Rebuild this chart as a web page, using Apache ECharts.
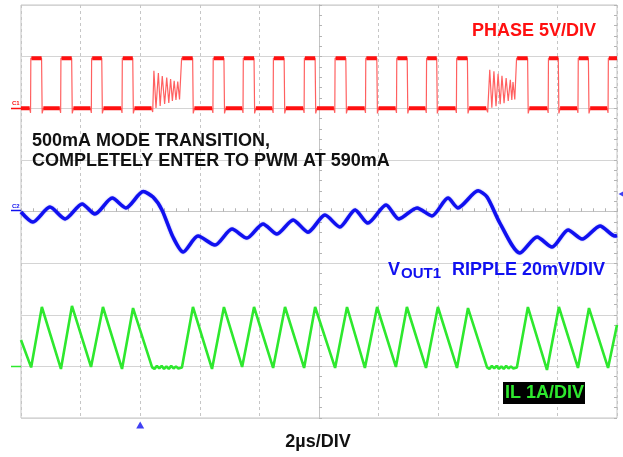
<!DOCTYPE html>
<html>
<head>
<meta charset="utf-8">
<script src="https://cdn.jsdelivr.net/npm/echarts@6/dist/echarts.min.js"></script>
<style>
html, body { margin: 0; padding: 0; background: #fff; }
#chart { width: 623px; height: 457px; }
</style>
</head>
<body>
<div id="chart"></div>
<script>
// time in µs (2µs/DIV, screen centred on 0)

// CH1 phase node, volts
const phaseHigh = 4.85;
const phaseLow = 0;
const phaseDip = -0.45;
const phaseUnder = -0.5;
const phaseRise = [-9.67, -8.66, -7.63, -6.60, -4.61, -3.55, -2.54, -1.53, -0.49, 0.54, 1.57, 2.61, 3.61, 4.62, 6.63, 7.70, 8.70, 9.71];
const phaseFall = [-9.31, -8.30, -7.29, -6.25, -4.24, -3.19, -2.18, -1.17, -0.13, 0.90, 1.94, 2.96, 3.95, 4.98, 7.00, 8.03, 9.04, null];
const burst1T = [-5.62, -5.58, -5.54, -5.47, -5.39, -5.33, -5.26, -5.18, -5.11, -5.04, -4.98, -4.92, -4.86, -4.80, -4.74, -4.68];
const burst1V = [0, -0.36, 3.64, 0.03, 3.42, 0.22, 3.13, 0.42, 2.97, 0.51, 2.84, 0.71, 2.67, 0.80, 2.58, 0.85];
const burst2T = [5.61, 5.66, 5.73, 5.80, 5.87, 5.94, 6.01, 6.08, 6.14, 6.21, 6.28, 6.35, 6.42, 6.47, 6.51, 6.57];
const burst2V = [0, -0.40, 3.73, 0.05, 3.57, 0.20, 3.34, 0.40, 3.15, 0.50, 2.93, 0.70, 2.76, 0.80, 2.54, 0.85];

// CH2 output ripple, mV
const vout = [
    [-10.00, -0.2], [-9.60, -4.1], [-9.03, 1.7], [-8.52, -2.9], [-7.95, 2.9], [-7.52, -1.0],
    [-6.94, 5.2], [-6.48, 1.4], [-5.90, 7.7], [-5.57, 5.6], [-5.27, 0.6], [-4.90, -9.9],
    [-4.56, -15.7], [-4.06, -9.5], [-3.49, -13.0], [-2.92, -6.8], [-2.42, -10.3], [-1.88, -4.8],
    [-1.41, -8.7], [-0.87, -3.3], [-0.37, -8.0], [0.20, -1.4], [0.70, -6.0], [1.21, 0.6],
    [1.64, -4.5], [2.25, 2.5], [2.68, -2.9], [3.29, 1.4], [3.79, -1.7], [4.33, 5.2],
    [4.66, 1.4], [5.34, 8.0], [5.64, 5.6], [6.07, -4.5], [6.74, -16.1], [7.32, -9.9],
    [7.82, -13.8], [8.36, -7.2], [8.83, -10.7], [9.43, -5.6], [9.93, -9.5], [10.00, -9.3]
];

// CH3 inductor current, A
const il = [
    [-10.00, 0.53], [-9.66, 0], [-9.30, 1.17], [-8.66, -0.03], [-8.29, 1.19], [-7.65, 0.01],
    [-7.25, 1.17], [-6.61, -0.03], [-6.24, 1.15], [-5.60, 0],
    [-5.52, -0.03], [-5.44, 0.03], [-5.36, -0.02], [-5.28, 0.03], [-5.20, -0.03], [-5.12, 0.02],
    [-5.04, -0.03], [-4.96, 0.03], [-4.88, -0.02], [-4.80, 0.02], [-4.72, -0.02],
    [-4.60, 0], [-4.23, 1.17], [-3.59, -0.03], [-3.19, 1.17], [-2.58, 0.01], [-2.18, 1.17],
    [-1.54, -0.01], [-1.14, 1.17], [-0.50, -0.01], [-0.13, 1.17], [0.54, -0.01], [0.94, 1.17],
    [1.54, -0.01], [1.95, 1.17], [2.58, 0.01], [2.95, 1.17], [3.59, -0.01], [3.99, 1.17],
    [4.63, -0.01], [5.00, 1.15], [5.64, 0],
    [5.72, -0.03], [5.80, 0.03], [5.88, -0.02], [5.96, 0.03], [6.04, -0.03], [6.12, 0.02],
    [6.20, -0.03], [6.28, 0.03], [6.36, -0.02], [6.44, 0.02], [6.52, -0.02],
    [6.64, 0], [7.01, 1.17], [7.65, -0.05], [8.05, 1.17], [8.69, -0.01], [9.06, 1.15],
    [9.70, -0.01], [10.00, 0.82]
];

const triggerTime = -6;
const triggerLevel = 6.8; // mV on CH2

const ch1 = { offset: 2.0, perDiv: 5 };
const ch2 = { offset: 0, perDiv: 20 };
const ch3 = { offset: -3.02, perDiv: 1 };
const toDiv = (ch, p) => [p[0], p[1] === '-' ? '-' : ch.offset + p[1] / ch.perDiv];

const RED = '#ff1010', BLUE = '#1010f0', GREEN = '#2ee82e';
const FONT = '"Liberation Sans", Arial, sans-serif';

// build phase waveform from the edge lists
const bursts = [
    burst1T.map((t, k) => [t, burst1V[k]]),
    burst2T.map((t, k) => [t, burst2V[k]])
];
const edgePts = [[-10, phaseLow]];
const flatPts = [];
let lowStart = -10;
phaseRise.forEach((r, i) => {
    const b = bursts.find(b => b[0][0] > lowStart && b[0][0] < r);
    const lowEnd = b ? b[0][0] : r - 0.04;
    flatPts.push([lowStart, phaseLow], [lowEnd, phaseLow], [lowEnd, '-']);
    if (b) b.forEach(p => edgePts.push(p));
    else edgePts.push([r - 0.04, phaseLow], [r - 0.01, phaseDip]);
    const f = phaseFall[i] == null ? 10 : phaseFall[i];
    edgePts.push([r, phaseHigh], [f, phaseHigh]);
    flatPts.push([r + 0.02, phaseHigh], [f, phaseHigh], [f, '-']);
    if (phaseFall[i] != null) {
        edgePts.push([f + 0.02, phaseUnder], [f + 0.06, phaseLow]);
        lowStart = f + 0.06;
    }
});

const tickStyle = { color: '#b4b4b4' };
const centreAxis = (inside, split) => ({
    type: 'value', min: -10, max: 10, interval: 2,
    axisLabel: { show: false },
    axisLine: { onZero: true, lineStyle: { color: '#c4c4c4' } },
    axisTick: { show: true, inside: inside, length: 3, lineStyle: tickStyle },
    minorTick: { show: true, splitNumber: 5, length: 3, lineStyle: tickStyle },
    splitLine: { show: split, lineStyle: { color: '#c6c6c6', type: [3, 3] } }
});
const centreYAxis = (inside, split) => ({
    type: 'value', min: -4, max: 4, interval: 1,
    axisLabel: { show: false },
    axisLine: { onZero: true, lineStyle: { color: '#c4c4c4' } },
    axisTick: { show: true, inside: inside, length: 3, lineStyle: tickStyle },
    minorTick: { show: true, splitNumber: 5, length: 3, lineStyle: tickStyle },
    splitLine: { show: split, lineStyle: { color: '#d4d4d4', type: 'solid' } }
});

const chart = echarts.init(document.getElementById('chart'));
const txt = (text, x, y, fill, size, extra) => ({
    type: 'text', x: x, y: y, z: 100,
    style: Object.assign({ text: text, fill: fill, font: 'bold ' + size + 'px ' + FONT, verticalAlign: 'middle' }, extra || {})
});

chart.setOption({
    animation: false,
    backgroundColor: '#fff',
    grid: { left: 21, right: 6, top: 5, bottom: 39, show: true, borderColor: '#c4c4c4', borderWidth: 1 },
    xAxis: [centreAxis(true, true), centreAxis(false, false)],
    yAxis: [centreYAxis(true, true), centreYAxis(false, false),
        Object.assign(centreYAxis(true, false), { position: 'right', axisLine: { show: false, onZero: false } })],
    series: [
        {
            type: 'line', data: edgePts.map(p => toDiv(ch1, p)), showSymbol: false,
            lineStyle: { color: '#ff6060', width: 1.2 }, z: 3
        },
        {
            type: 'line', data: flatPts.map(p => toDiv(ch1, p)), showSymbol: false, connectNulls: false,
            lineStyle: { color: RED, width: 4 }, z: 4
        },
        {
            type: 'line', data: vout.map(p => toDiv(ch2, p)), showSymbol: false, smooth: 0.25,
            lineStyle: { color: BLUE, width: 3.5, shadowColor: 'rgba(16,16,240,0.5)', shadowBlur: 1.5 }, z: 5
        },
        {
            type: 'line', data: il.map(p => toDiv(ch3, p)), showSymbol: false,
            lineStyle: { color: GREEN, width: 2.6 }, z: 5
        },
        {
            type: 'scatter', clip: false, silent: true,
            data: [[triggerTime, -4]], symbol: 'triangle', symbolSize: [8, 7], symbolOffset: [0, 7],
            itemStyle: { color: BLUE }
        },
        {
            type: 'scatter', clip: false, silent: true,
            data: [toDiv(ch2, [10, triggerLevel])], symbol: 'triangle', symbolRotate: 90,
            symbolSize: [8, 7], symbolOffset: [5, 0], itemStyle: { color: BLUE }
        }
    ],
    graphic: [
        txt('PHASE 5V/DIV', 472, 31, RED, 18),
        txt('500mA MODE TRANSITION,', 32, 141, '#111', 18),
        txt('COMPLETELY ENTER TO PWM AT 590mA', 32, 161, '#111', 18),
        txt('V', 388, 270, BLUE, 18),
        txt('OUT1', 401, 274, BLUE, 15),
        txt('RIPPLE 20mV/DIV', 452, 270, BLUE, 18),
        { type: 'rect', shape: { x: 503, y: 382, width: 82, height: 22 }, style: { fill: '#000' }, z: 99 },
        txt('IL 1A/DIV', 505, 393.5, GREEN, 18),
        txt('2µs/DIV', 318, 442, '#111', 18, { align: 'center' }),
        // channel ground markers
        { type: 'line', shape: { x1: 11, y1: 108.5, x2: 21, y2: 108.5 }, style: { stroke: RED, lineWidth: 1.5 } },
        txt('C1', 12, 103, RED, 6),
        { type: 'line', shape: { x1: 11, y1: 210.5, x2: 21, y2: 210.5 }, style: { stroke: BLUE, lineWidth: 1.5 } },
        txt('C2', 12, 206, BLUE, 6),
        { type: 'line', shape: { x1: 11, y1: 366.5, x2: 21, y2: 366.5 }, style: { stroke: GREEN, lineWidth: 1.5 } },
        Object.assign(txt('C3', 15, 362, GREEN, 6, { align: 'center' }), { rotation: Math.PI / 2, originX: 15, originY: 362 })
    ]
});
</script>
</body>
</html>
